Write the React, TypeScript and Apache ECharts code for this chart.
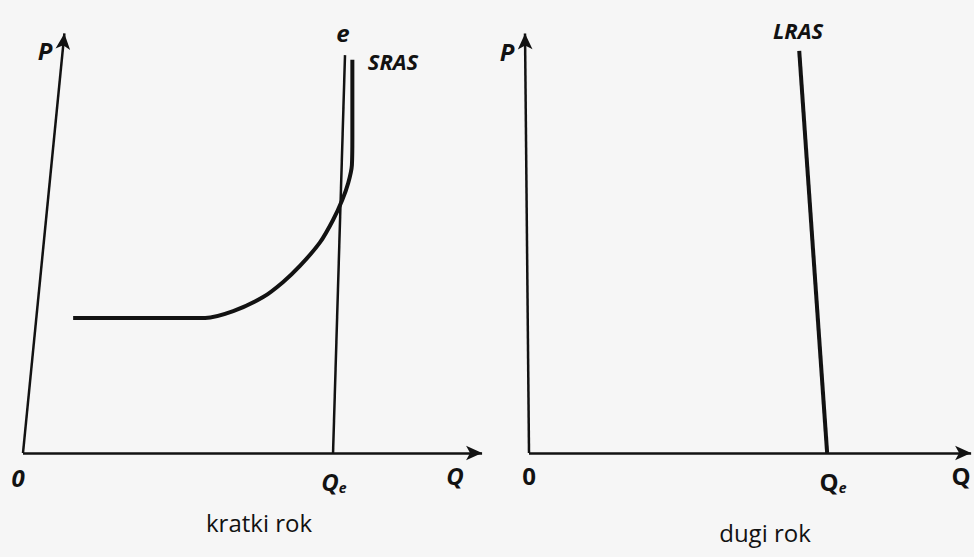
import React, { useEffect, useRef } from "react";
import * as echarts from "echarts";

// Short run panel (kratki rok): data units Q 0..10, P 0..10
const srAxisP: number[][] = [[0, 0], [0.9, 9.85]];
const srAxisQ: number[][] = [[0, 0], [9.98, 0]];
const srQeLine: number[][] = [[6.74, 0], [7.0, 9.34]];
const srasQ = [1.09, 3.5, 3.96, 4.57, 5.22, 5.65, 6.02, 6.46, 6.74, 6.94, 7.07, 7.15, 7.16, 7.16];
const srasP = [3.17, 3.17, 3.17, 3.33, 3.66, 4.01, 4.39, 4.95, 5.47, 5.94, 6.34, 6.76, 7.4, 9.23];

// Long run panel (dugi rok)
const lrAxisP: number[][] = [[0, 0], [-0.09, 9.85]];
const lrAxisQ: number[][] = [[0, 0], [9.98, 0]];
const lrasQ = [6.1, 6.73];
const lrasP = [9.44, 0];

const INK = "#121212";

export default function App() {
  const ref = useRef<HTMLDivElement>(null);
  useEffect(() => {
    if (!ref.current) return;
    const chart = echarts.init(ref.current, null, { renderer: "svg" });
    const axisLine = (pts: number[][]) => ({
      silent: true,
      symbol: ["none", "arrow"],
      symbolSize: [11, 16],
      label: { show: false },
      lineStyle: { color: INK, width: 2.5, type: "solid" },
      emphasis: { disabled: true },
      data: [[{ coord: pts[0] }, { coord: pts[1] }]],
    });
    const lab = (text: string, x: number, y: number, size = 23, italic = true, bold = true) => ({
      type: "text",
      x,
      y,
      style: {
        text,
        fontFamily: "Open Sans",
        fontSize: size,
        fontStyle: italic ? "italic" : "normal",
        fontWeight: bold ? "bold" : "normal",
        fill: INK,
        align: "center",
        verticalAlign: "middle",
      },
    });
    const qe = (x: number, y: number, italic = true) => ({
      type: "text",
      x,
      y,
      style: {
        text: "{q|Q}{s|e}",
        align: "center",
        verticalAlign: "middle",
        rich: {
          q: { fontFamily: "Open Sans", fontSize: 24, fontStyle: italic ? "italic" : "normal", fontWeight: "bold", fill: INK },
          s: { fontFamily: "Open Sans", fontSize: 14, fontStyle: "italic", fontWeight: "bold", fill: INK, padding: [12, 0, 0, 0] },
        },
      },
    });
    chart.setOption({
      animation: false,
      backgroundColor: "#f6f6f6",
      grid: [
        { left: 23, top: 27, width: 460, height: 426 },
        { left: 506.85, top: 27, width: 465.15, height: 426 },
      ],
      xAxis: [
        { type: "value", gridIndex: 0, min: 0, max: 10, show: false },
        { type: "value", gridIndex: 1, min: -0.5, max: 10, show: false },
      ],
      yAxis: [
        { type: "value", gridIndex: 0, min: 0, max: 10, show: false },
        { type: "value", gridIndex: 1, min: 0, max: 10, show: false },
      ],
      series: [
        {
          type: "line",
          xAxisIndex: 0,
          yAxisIndex: 0,
          clip: false,
          showSymbol: false,
          silent: true,
          data: srQeLine,
          lineStyle: { color: INK, width: 2.5 },
          markLine: axisLine(srAxisP),
        },
        {
          type: "line",
          xAxisIndex: 0,
          yAxisIndex: 0,
          clip: false,
          showSymbol: false,
          silent: true,
          data: [],
          markLine: axisLine(srAxisQ),
        },
        {
          type: "line",
          xAxisIndex: 0,
          yAxisIndex: 0,
          clip: false,
          showSymbol: false,
          silent: true,
          smooth: 0.3,
          data: srasQ.map((q, i) => [q, srasP[i]]),
          lineStyle: { color: INK, width: 4 },
        },
        {
          type: "line",
          xAxisIndex: 1,
          yAxisIndex: 1,
          clip: false,
          showSymbol: false,
          silent: true,
          data: lrasQ.map((q, i) => [q, lrasP[i]]),
          lineStyle: { color: INK, width: 4 },
          markLine: axisLine(lrAxisP),
        },
        {
          type: "line",
          xAxisIndex: 1,
          yAxisIndex: 1,
          clip: false,
          showSymbol: false,
          silent: true,
          data: [],
          markLine: axisLine(lrAxisQ),
        },
      ],
      graphic: [
        lab("P", 45, 50, 24),
        lab("e", 343, 32, 24),
        lab("SRAS", 393, 61, 22),
        lab("0", 18, 477, 24),
        qe(334, 481),
        lab("Q", 455, 475, 24),
        lab("kratki rok", 259, 522, 24, false, false),
        lab("P", 507, 51, 24),
        lab("LRAS", 798, 30, 22),
        lab("0", 529, 475, 24, false, true),
        qe(833, 481, false),
        lab("Q", 961, 475, 24, false, true),
        lab("dugi rok", 765, 532, 24, false, false),
      ],
    });
    return () => chart.dispose();
  }, []);
  return (
    <div
      ref={ref}
      style={{ position: "fixed", left: 0, top: 0, width: 974, height: 557 }}
    />
  );
}
